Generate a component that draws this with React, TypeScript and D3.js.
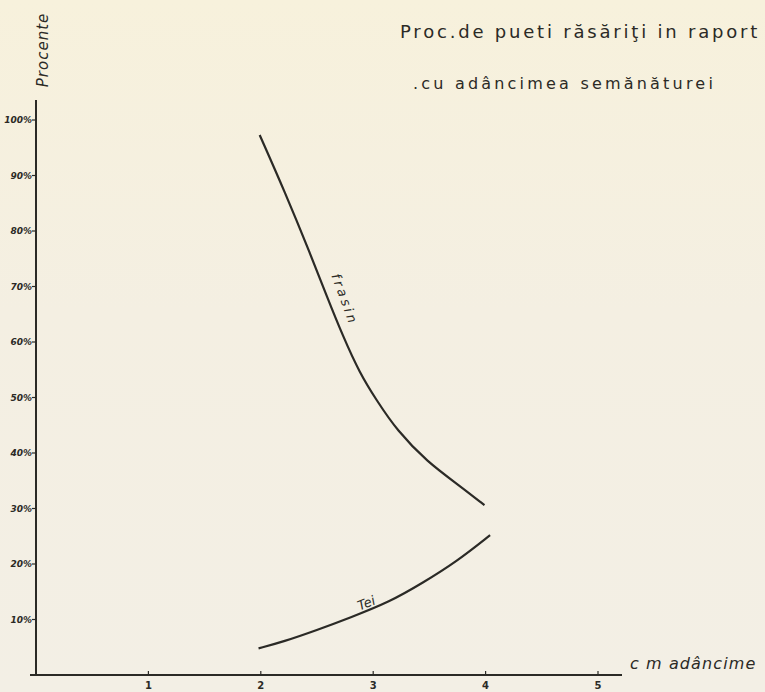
import React from 'react';
import * as d3 from 'd3';

// depth of sowing (cm) and percentage of emerged seedlings
const frasinDepth = [1.99, 2.215, 2.44, 2.59, 2.73, 2.88, 3.03, 3.21, 3.48, 3.77, 3.99];
const frasinPct = [97.3, 87.0, 75.9, 68.1, 61.1, 54.4, 49.5, 44.1, 38.4, 34.1, 30.6];
const teiDepth = [1.98, 2.2, 2.5, 2.79, 3.15, 3.44, 3.74, 4.04];
const teiPct = [4.8, 6.0, 8.1, 10.3, 13.2, 16.6, 20.4, 25.2];
const yTicks = [10, 20, 30, 40, 50, 60, 70, 80, 90, 100];
const yTickLabels = ['10%', '20%', '30%', '40%', '50%', '60%', '70%', '80%', '90%', '100%'];
const xTicks = [1, 2, 3, 4, 5];

const W = 765;
const H = 692;
const ink = '#2b2a26';

export default function App() {
  const x = d3.scaleLinear().domain([0, 5]).range([36, 598]);
  const y = d3.scaleLinear().domain([0, 100]).range([675, 120]);

  const line = d3.line<[number, number]>()
    .x(d => x(d[0]))
    .y(d => y(d[1]))
    .curve(d3.curveBasis);

  const frasin = frasinDepth.map((d, i) => [d, frasinPct[i]] as [number, number]);
  const tei = teiDepth.map((d, i) => [d, teiPct[i]] as [number, number]);

  return (
    <svg width={W} height={H} style={{ position: 'absolute', left: 0, top: 0 }}
      fontFamily="'DejaVu Sans', sans-serif">
      <defs>
        <linearGradient id="paper" x1="0" y1="0" x2="0" y2="1">
          <stop offset="0" stopColor="#f7f1dc" />
          <stop offset="0.45" stopColor="#f4efe2" />
          <stop offset="1" stopColor="#f3efe5" />
        </linearGradient>
      </defs>
      <rect width={W} height={H} fill="url(#paper)" />

      {/* axes */}
      <line x1={x(0)} y1={100} x2={x(0)} y2={y(0)} stroke={ink} strokeWidth={2} />
      <line x1={30} y1={y(0)} x2={622} y2={y(0)} stroke={ink} strokeWidth={1.8} />

      {yTicks.map((t, i) => (
        <g key={t}>
          <line x1={x(0) - 4} x2={x(0)} y1={y(t)} y2={y(t)} stroke={ink} strokeWidth={1.2} />
          <text x={x(0) - 4} y={y(t) + 3} textAnchor="end" fontSize={9}
            fontStyle="italic" fontWeight="bold" fill={ink}>{yTickLabels[i]}</text>
        </g>
      ))}
      {xTicks.map(t => (
        <g key={t}>
          <line x1={x(t)} x2={x(t)} y1={y(0) - 4} y2={y(0)} stroke={ink} strokeWidth={1.2} />
          <text x={x(t)} y={y(0) + 14} textAnchor="middle" fontSize={10}
            fontWeight="bold" fill={ink}>{t}</text>
        </g>
      ))}

      <text transform="translate(48,50) rotate(-90)" textAnchor="middle" fontSize={15}
        fontStyle="italic" fill={ink} letterSpacing={1}>Procente</text>
      <text x={630} y={669} fontSize={16} fontStyle="italic" fill={ink}
        letterSpacing={1.1}>c m adâncime</text>

      {/* title */}
      <text x={400} y={38} fontSize={18} fill={ink} letterSpacing={2.8}>Proc.de pueti răsăriţi in raport</text>
      <text x={413} y={89} fontSize={16} fill={ink} letterSpacing={3.2}>.cu adâncimea semănăturei</text>

      {/* curves */}
      <path d={line(frasin) || ''} fill="none" stroke={ink} strokeWidth={2.2} />
      <path d={line(tei) || ''} fill="none" stroke={ink} strokeWidth={2.2} />

      <text transform={`translate(${x(2.6) + 3},${y(72)}) rotate(70)`} fontSize={13}
        fontStyle="italic" fill={ink} letterSpacing={3}>frasin</text>
      <text transform={`translate(${x(2.88)},${y(11.6)}) rotate(-22)`} fontSize={13}
        fontStyle="italic" fill={ink}>Tei</text>
    </svg>
  );
}
